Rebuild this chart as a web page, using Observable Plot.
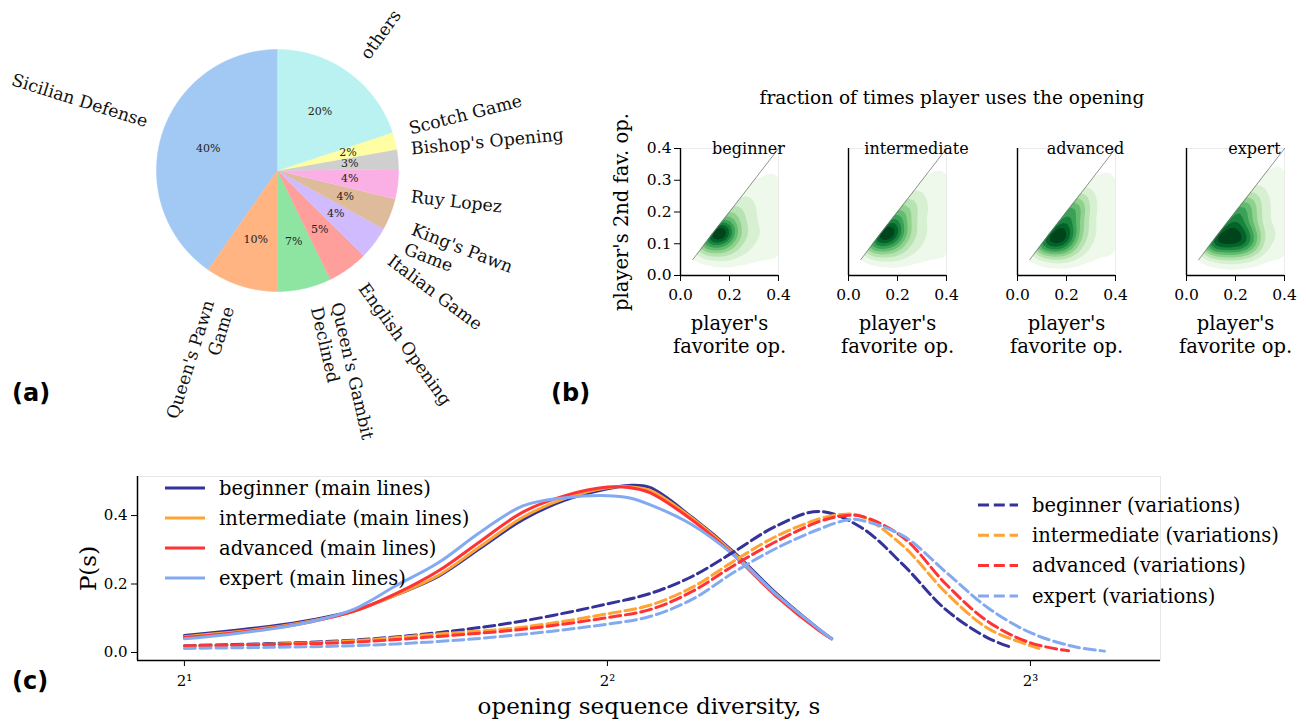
<!DOCTYPE html>
<html><head><meta charset="utf-8">
<script src="https://cdn.jsdelivr.net/npm/d3@7"></script>
<script src="https://cdn.jsdelivr.net/npm/@observablehq/plot@0.6"></script>
<style>
html,body{margin:0;padding:0;background:#fff;}
#root{position:relative;width:1306px;height:727px;overflow:hidden;background:#fff;font-family:"DejaVu Serif",serif;color:#000;}
#root > *{position:absolute;}
.panel-label{font-family:"DejaVu Sans",sans-serif;font-weight:bold;font-size:24px;line-height:24px;}
</style></head>
<body><div id="root"></div>
<script>
// ---------------- data ----------------
// (a) share of openings
const openings = ["Sicilian Defense","Queen's Pawn\nGame","Queen's Gambit\nDeclined","English Opening","Italian Game","King's Pawn\nGame","Ruy Lopez","Bishop's Opening","Scotch Game","others"];
const openingShares = [40.3, 9.7, 7.2, 5.4, 4.4, 4.2, 4.0, 2.6, 2.3, 19.9];
const pieColors = ["#a1c9f4","#ffb482","#8de5a1","#ff9f9b","#d0bbff","#debb9b","#fab0e4","#cfcfcf","#fffea3","#b9f2f0"];

// skill levels
const skillLevels = ["beginner","intermediate","advanced","expert"];
const levelColors = ["#333399","#ffa333","#ff3333","#83aaf1"];

// (b) density on a grid (rows: top to bottom)
const kdeGridX = [0.04,0.08,0.12,0.16,0.20,0.24,0.28,0.32,0.36,0.40];
const kdeGridY = [0.38,0.34,0.30,0.26,0.22,0.18,0.14,0.10,0.06,0.02];
const beginnerDensity = [
  [0,0,0,0,0,0,0,0,0.2,0.3],
  [0,0,0,0,0,0,0,0.4,0.5,0.7],
  [0,0,0,0,0,0,0.9,0.9,0.9,1.3],
  [0,0,0,0,0,1.5,1.5,1.2,1.0,1.5],
  [0,0,0,0,2.5,2.5,1.8,1.3,1.1,1.6],
  [0,0,0,5,5,3,2,1.4,1.2,1.6],
  [0,0,8,12,6,3,2,1.4,1.2,1.6],
  [0,5,6,7,4,2.5,1.7,1.3,1.1,1.5],
  [1,1,2,2.2,2,1.6,1.3,1.1,0.9,1.2],
  [0,0.2,0.3,0.4,0.4,0.4,0.3,0.3,0.2,0.3]
];
const intermediateDensity = [
  [0,0,0,0,0,0,0,0,0.3,0.5],
  [0,0,0,0,0,0,0,0.6,0.6,0.9],
  [0,0,0,0,0,0,1.1,1.1,1.0,1.4],
  [0,0,0,0,0,2,2,1.4,1.1,1.6],
  [0,0,0,0,4,4,2.3,1.5,1.2,1.6],
  [0,0,0,7,7,3.8,2.2,1.5,1.2,1.6],
  [0,0,9,11,6.5,3.5,2,1.4,1.2,1.6],
  [0,6,7,7.5,4.5,2.8,1.8,1.3,1.1,1.5],
  [1.2,1.2,2.3,2.5,2.2,1.7,1.3,1.1,0.9,1.2],
  [0,0.2,0.3,0.4,0.4,0.4,0.3,0.3,0.2,0.3]
];
const advancedDensity = [
  [0,0,0,0,0,0,0,0,0.4,0.5],
  [0,0,0,0,0,0,0,0.7,0.7,0.9],
  [0,0,0,0,0,0,1.2,1.2,1.0,1.4],
  [0,0,0,0,0,3,3,1.5,1.1,1.6],
  [0,0,0,0,7,7,3,1.6,1.2,1.6],
  [0,0,0,7,8,6,2.8,1.6,1.2,1.6],
  [0,0,8,10,9,5,2.6,1.5,1.2,1.6],
  [0,7,9,11,8,4,2.2,1.4,1.1,1.5],
  [1.5,1.5,3,3.5,3,2.2,1.5,1.1,0.9,1.2],
  [0,0.2,0.4,0.5,0.5,0.4,0.3,0.3,0.2,0.3]
];
const expertDensity = [
  [0,0,0,0,0,0,0,0,0.5,0.7],
  [0,0,0,0,0,0,0,0.8,0.8,1.1],
  [0,0,0,0,0,0,1.4,1.4,1.2,1.6],
  [0,0,0,0,0,3,3,1.7,1.3,1.7],
  [0,0,0,0,6.5,6.5,3.5,1.8,1.3,1.7],
  [0,0,0,7,8,6,3.5,1.8,1.4,1.8],
  [0,0,8,9,7,7.5,4,2,1.4,1.8],
  [0,7,9,10,8,9.5,4.5,2,1.4,1.7],
  [1.5,1.5,3,3.5,3.2,3,2,1.3,1,1.3],
  [0,0.2,0.4,0.5,0.5,0.5,0.4,0.3,0.2,0.3]
];
const diagonal = [0.05, 0.4];
const kdeXTicks = [0, 0.2, 0.4];
const kdeYTicks = [0, 0.1, 0.2, 0.3, 0.4];

// (c) P(s) curves, positions given as log2(s)
const mainLog2s = [1.0,1.1,1.2,1.3,1.4,1.5,1.6,1.7,1.8,1.9,2.0,2.05,2.1,2.2,2.3,2.4,2.5,2.53];
const beginnerMain     = [0.050,0.062,0.076,0.095,0.122,0.168,0.222,0.305,0.388,0.445,0.478,0.488,0.482,0.395,0.292,0.172,0.068,0.040];
const intermediateMain = [0.046,0.058,0.072,0.092,0.120,0.168,0.225,0.310,0.395,0.450,0.481,0.484,0.474,0.392,0.288,0.168,0.066,0.040];
const advancedMain     = [0.044,0.055,0.070,0.090,0.120,0.172,0.238,0.325,0.410,0.458,0.483,0.482,0.467,0.387,0.283,0.163,0.064,0.040];
const expertMain       = [0.040,0.052,0.068,0.090,0.126,0.195,0.262,0.352,0.428,0.452,0.458,0.452,0.432,0.373,0.283,0.168,0.068,0.040];

const beginnerVarLog2s     = [1.0,1.2,1.4,1.6,1.8,2.0,2.1,2.2,2.3,2.4,2.5,2.6,2.7,2.8,2.9,2.955];
const beginnerVar          = [0.020,0.026,0.036,0.058,0.092,0.142,0.172,0.222,0.295,0.370,0.412,0.365,0.255,0.125,0.042,0.015];
const intermediateVarLog2s = [1.0,1.2,1.4,1.6,1.8,2.0,2.1,2.2,2.3,2.4,2.5,2.55,2.6,2.7,2.8,2.9,3.0,3.02];
const intermediateVar      = [0.018,0.024,0.034,0.054,0.074,0.113,0.138,0.190,0.268,0.340,0.390,0.403,0.398,0.310,0.175,0.070,0.020,0.012];
const advancedVarLog2s     = [1.0,1.2,1.4,1.6,1.8,2.0,2.1,2.2,2.3,2.4,2.5,2.55,2.6,2.7,2.8,2.9,3.0,3.09];
const advancedVar          = [0.019,0.023,0.030,0.047,0.068,0.102,0.125,0.178,0.255,0.325,0.382,0.398,0.398,0.335,0.200,0.090,0.028,0.005];
const expertVarLog2s       = [1.0,1.2,1.4,1.6,1.8,2.0,2.1,2.2,2.3,2.4,2.5,2.57,2.6,2.7,2.8,2.9,3.0,3.1,3.175];
const expertVar            = [0.012,0.015,0.020,0.032,0.053,0.083,0.105,0.155,0.235,0.305,0.360,0.388,0.386,0.340,0.235,0.130,0.058,0.018,0.004];

const diversityTicks = [2, 4, 8];
const diversityTickLabels = ["2¹", "2²", "2³"];
const pTicks = [0, 0.2, 0.4];

// ---------------- helpers ----------------
const root = document.getElementById("root");
function put(el, left, top) { el.style.position = "absolute"; el.style.left = left + "px"; el.style.top = top + "px"; root.appendChild(el); return el; }
function html(tag, text, cls, style) { const e = document.createElement(tag); e.textContent = text; if (cls) e.className = cls; Object.assign(e.style, style || {}); return e; }
const baseStyle = {fontFamily: "DejaVu Serif, serif", fontSize: "15px", background: "transparent", color: "#000", overflow: "visible"};
const rad = Math.PI / 180;

// ---------------- (a) pie ----------------
const pieW = 600, pieH = 440, pcx = 277, pcy = 170, pr = 121;
const labelFont = 17.3, labelLH = 1.2;
const ctx = document.createElement("canvas").getContext("2d");
ctx.font = `${labelFont}px "DejaVu Serif"`;
const cum = d3.cumsum(openingShares);
const slices = openings.map((name, i) => ({
  name, share: openingShares[i], color: pieColors[i],
  a0: 90 + 3.6 * (cum[i] - openingShares[i]), a1: 90 + 3.6 * cum[i]
}));
const wedgePts = slices.flatMap(s => {
  const n = Math.max(2, Math.ceil(s.a1 - s.a0));
  const pts = [{name: s.name, color: s.color, x: 0, y: 0}];
  for (let k = 0; k <= n; k++) {
    const a = (s.a0 + (s.a1 - s.a0) * k / n) * rad;
    pts.push({name: s.name, color: s.color, x: Math.cos(a), y: Math.sin(a)});
  }
  return pts;
});
// matplotlib-style rotated labels: rotated bbox aligned (left/right, bottom/top) to the point at 1.1 r
const labels = slices.map(s => {
  const m = (s.a0 + s.a1) / 2;
  const lx = 1.1 * pr * Math.cos(m * rad), ly = 1.1 * pr * Math.sin(m * rad);
  const right = lx > 0;
  const thDeg = right ? m : m + 180, th = thDeg * rad;
  const lines = s.name.split("\n");
  const w = Math.max(...lines.map(l => ctx.measureText(l).width));
  const h = labelFont * (1.17 + labelLH * (lines.length - 1));
  const c = Math.cos(th), sn = Math.sin(th);
  const ex = w / 2 * Math.abs(c) + h / 2 * Math.abs(sn);
  const ey = w / 2 * Math.abs(sn) + h / 2 * Math.abs(c);
  const cx = lx + (right ? ex : -ex), cy = ly + (ly > 0 ? ey : -ey);
  const ax = cx + (right ? -1 : 1) * (w / 2) * c, ay = cy + (right ? -1 : 1) * (w / 2) * sn;
  return {...s, m, right, rot: -thDeg, tx: ax / pr, ty: ay / pr, px: 0.6 * Math.cos(m * rad), py: 0.6 * Math.sin(m * rad)};
});
const pie = Plot.plot({
  width: pieW, height: pieH, margin: 0,
  style: baseStyle,
  x: {domain: [-pcx / pr, (pieW - pcx) / pr], axis: null},
  y: {domain: [-(pieH - pcy) / pr, pcy / pr], axis: null},
  color: {type: "identity"},
  marks: [
    Plot.line(wedgePts, {x: "x", y: "y", z: "name", fill: "color", stroke: "color", strokeWidth: 0.5, curve: "linear"}),
    Plot.text(labels.filter(d => d.right), {x: "tx", y: "ty", text: "name", textAnchor: "start", rotate: "rot", fontSize: labelFont, lineHeight: labelLH, fill: "#111"}),
    Plot.text(labels.filter(d => !d.right), {x: "tx", y: "ty", text: "name", textAnchor: "end", rotate: "rot", fontSize: labelFont, lineHeight: labelLH, fill: "#111"}),
    Plot.text(labels, {x: "px", y: "py", text: d => Math.round(d.share) + "%", fontSize: 11, fill: "#222"})
  ]
});
put(pie, 0, 0);

// ---------------- (b) density panels ----------------
const densitySets = [beginnerDensity, intermediateDensity, advancedDensity, expertDensity];
const frameLefts = [680, 848, 1017, 1186];
const fw = 98, fh = 127, mTop = 25, mBottom = 85, mRight = 25;
const greens = t => d3.interpolateGreens(Math.max(0.04, Math.min(1, 1.08 * t - 0.06)));
densitySets.forEach((grid, i) => {
  const pts = grid.flatMap((row, r) => row.map((v, c) => ({x: kdeGridX[c], y: kdeGridY[r], w: v}))).filter(d => d.w > 0);
  const ml = i === 0 ? 80 : 20;
  const marks = [
    Plot.density(pts, {x: "x", y: "y", weight: "w", bandwidth: 6, thresholds: 10, fill: "density", clip: true}),
    Plot.areaY([0].concat(diagonal), {x: d => d, y1: d => d, y2: 0.4, fill: "white"}),
    Plot.ruleY([0.4], {stroke: "#ebebeb"}),
    Plot.ruleX([0.4], {stroke: "#ebebeb"}),
    Plot.line(diagonal, {x: d => d, y: d => d, stroke: "#777", strokeWidth: 0.8}),
    Plot.ruleX([0], {stroke: "#000", strokeWidth: 1.4}),
    Plot.ruleY([0], {stroke: "#000", strokeWidth: 1.4}),
    Plot.text([skillLevels[i]], {text: d => d, frameAnchor: "top", dx: 19, dy: 5, lineAnchor: "bottom", fontSize: 16}),
    Plot.text(["player's\nfavorite op."], {text: d => d, frameAnchor: "bottom", dy: 38, lineAnchor: "top", fontSize: 19.5, lineHeight: 1.18})
  ];
  if (i === 0) marks.push(Plot.text(["player's 2nd fav. op."], {text: d => d, frameAnchor: "left", textAnchor: "middle", dx: -59, rotate: -90, fontSize: 19.5}));
  const p = Plot.plot({
    width: ml + fw + mRight, height: mTop + fh + mBottom,
    marginLeft: ml, marginRight: mRight, marginTop: mTop, marginBottom: mBottom,
    style: {...baseStyle, fontSize: "15.5px"},
    x: {domain: [0, 0.4], ticks: kdeXTicks, tickFormat: d3.format(".1f"), tickSize: 6, tickPadding: 7, label: null},
    y: i === 0 ? {domain: [0, 0.4], ticks: kdeYTicks, tickFormat: d3.format(".1f"), tickSize: 6, tickPadding: 3, label: null}
               : {domain: [0, 0.4], axis: null},
    color: {type: "linear", interpolate: greens},
    marks
  });
  put(p, frameLefts[i] - ml, 148 - mTop);
});
put(html("div", "fraction of times player uses the opening", "", {width: "500px", textAlign: "center", fontSize: "18.5px", lineHeight: "20px"}), 952 - 250, 88);

// ---------------- (c) P(s) ----------------
const mainSeries = [beginnerMain, intermediateMain, advancedMain, expertMain];
const varLog2s = [beginnerVarLog2s, intermediateVarLog2s, advancedVarLog2s, expertVarLog2s];
const varSeries = [beginnerVar, intermediateVar, advancedVar, expertVar];
const mainRows = skillLevels.flatMap((lv, i) => mainLog2s.map((t, j) => ({level: lv, s: 2 ** t, p: mainSeries[i][j]})));
const varRows = skillLevels.flatMap((lv, i) => varLog2s[i].map((t, j) => ({level: lv, s: 2 ** t, p: varSeries[i][j]})));
const xDomain = [1.852, 9.90], yDomain = [-0.0234, 0.514];
const dash = "11,4.8";
const cTop = 440;
const plotC = Plot.plot({
  width: 1306, height: 727 - cTop, marginLeft: 137, marginRight: 146, marginTop: 476 - cTop, marginBottom: 727 - 660,
  style: baseStyle,
  x: {type: "log", base: 2, domain: xDomain, ticks: diversityTicks, tickFormat: d => diversityTickLabels[diversityTicks.indexOf(d)], tickSize: 6, tickPadding: 9, label: null},
  y: {domain: yDomain, ticks: pTicks, tickFormat: d3.format(".1f"), tickSize: 6, tickPadding: 4, label: null},
  color: {domain: skillLevels, range: levelColors},
  marks: [
    Plot.frame({stroke: "#e6e6e6"}),
    Plot.line(mainRows, {x: "s", y: "p", z: "level", stroke: "level", strokeWidth: 3, curve: "catmull-rom"}),
    Plot.line(varRows, {x: "s", y: "p", z: "level", stroke: "level", strokeWidth: 3, strokeDasharray: dash, curve: "catmull-rom"}),
    Plot.ruleX([xDomain[0]], {stroke: "#000", strokeWidth: 1.5}),
    Plot.ruleY([yDomain[0]], {stroke: "#000", strokeWidth: 1.5}),
    Plot.text(["opening sequence diversity, s"], {text: d => d, frameAnchor: "bottom", dy: 53, fontSize: 23}),
    Plot.text(["P(s)"], {text: d => d, frameAnchor: "left", textAnchor: "middle", dx: -49, rotate: -90, fontSize: 23})
  ]
});
put(plotC, 0, cTop);

// legends for (c)
const leg = d3.create("svg").attr("width", 1306).attr("height", 727).style("pointer-events", "none")
  .attr("font-family", "DejaVu Serif, serif").attr("font-size", 19.5);
const legendSpecs = [
  {x: 165, y: 488, step: 30, suffix: " (main lines)", dash: null},
  {x: 978, y: 505, step: 30.3, suffix: " (variations)", dash: dash}
];
legendSpecs.forEach(spec => {
  skillLevels.forEach((lv, i) => {
    const y = spec.y + spec.step * i;
    leg.append("line").attr("x1", spec.x).attr("x2", spec.x + 40).attr("y1", y).attr("y2", y)
      .attr("stroke", levelColors[i]).attr("stroke-width", 3).attr("stroke-dasharray", spec.dash);
    leg.append("text").attr("x", spec.x + 54).attr("y", y).attr("dy", "0.35em").text(lv + spec.suffix);
  });
});
put(leg.node(), 0, 0);

// panel labels
put(html("div", "(a)", "panel-label"), 12, 381);
put(html("div", "(b)", "panel-label"), 551, 381);
put(html("div", "(c)", "panel-label"), 12, 669);
</script>
</body></html>
